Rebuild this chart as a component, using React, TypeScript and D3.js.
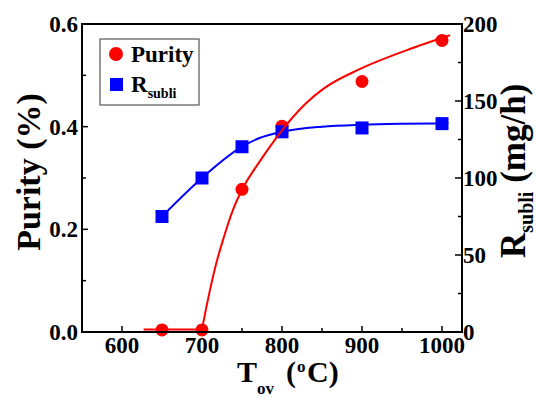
import React from "react";
import * as d3 from "d3";

// Measured data
const temps = [650, 700, 750, 800, 900, 1000];
const purity = [0.004, 0.004, 0.278, 0.401, 0.488, 0.568];
const rsubli = [75, 100, 120.3, 130, 132.5, 135.3];

// Fit curves
const purityFlatT = [627, 700];
const purityFlatV = [0.005, 0.005];
const purityFitT = [700, 705, 710, 718, 727, 738, 750, 772, 789, 800, 810, 831, 852, 897, 956, 1010];
const purityFitV = [0.005, 0.045, 0.082, 0.135, 0.183, 0.235, 0.277, 0.332, 0.370, 0.393, 0.412, 0.447, 0.474, 0.512, 0.549, 0.578];
const rFitT = [650, 700, 750, 772, 800, 850, 900, 950, 1008];
const rFitV = [75, 100, 120.3, 126, 130, 133.3, 134.6, 135.2, 135.5];

const xTicks = [600, 700, 800, 900, 1000];
const xMinor = [550, 650, 750, 850, 950];
const yLTicks = [0, 0.2, 0.4, 0.6];
const yLMinor = [0.1, 0.3, 0.5];
const yRTicks = [0, 50, 100, 150, 200];
const yRMinor = [25, 75, 125, 175];

const W = 537, H = 399;
const L = 82, R = 462, T = 24, B = 332;
const FONT = "Liberation Serif, DejaVu Serif, Times New Roman, serif";

export default function App() {
  const x = d3.scaleLinear().domain([550, 1025]).range([L, R]);
  const yL = d3.scaleLinear().domain([0, 0.6]).range([B, T]);
  const yR = d3.scaleLinear().domain([0, 200]).range([B, T]);

  const lineFlat = d3.line<number>().x((d, i) => x(purityFlatT[i])).y((d) => yL(d));
  const linePur = d3.line<number>().x((d, i) => x(purityFitT[i])).y((d) => yL(d)).curve(d3.curveMonotoneX);
  const lineR = d3.line<number>().x((d, i) => x(rFitT[i])).y((d) => yR(d)).curve(d3.curveMonotoneX);

  const tickStyle = { stroke: "#000", strokeWidth: 1.5 };
  const ts = { fontFamily: FONT, fontWeight: 700 as const };

  return (
    <svg width={W} height={H} style={{ position: "absolute", left: 0, top: 0, background: "#fff" }}>
      <rect x={0} y={0} width={W} height={H} fill="#fff" />
      {xTicks.map((t) => (
        <line key={"xt" + t} x1={x(t)} x2={x(t)} y1={B} y2={B - 6} {...tickStyle} />
      ))}
      {xMinor.filter((t) => x(t) > L + 1).map((t) => (
        <line key={"xm" + t} x1={x(t)} x2={x(t)} y1={B} y2={B - 4} {...tickStyle} />
      ))}
      {yLTicks.map((t) => (
        <line key={"ylt" + t} x1={L} x2={L + 6} y1={yL(t)} y2={yL(t)} {...tickStyle} />
      ))}
      {yLMinor.map((t) => (
        <line key={"ylm" + t} x1={L} x2={L + 4} y1={yL(t)} y2={yL(t)} {...tickStyle} />
      ))}
      {yRTicks.map((t) => (
        <line key={"yrt" + t} x1={R} x2={R - 7} y1={yR(t)} y2={yR(t)} {...tickStyle} />
      ))}
      {yRMinor.map((t) => (
        <line key={"yrm" + t} x1={R} x2={R - 4} y1={yR(t)} y2={yR(t)} {...tickStyle} />
      ))}

      <path d={lineFlat(purityFlatV) || ""} fill="none" stroke="#ff0000" strokeWidth={2} />
      {temps.map((t, i) => (
        <circle key={"pc" + t} cx={x(t)} cy={yL(purity[i])} r={6.5} fill="#ff0000" />
      ))}
      <path d={lineR(rFitV) || ""} fill="none" stroke="#0000ff" strokeWidth={2} />
      {temps.map((t, i) => (
        <rect key={"rs" + t} x={x(t) - 6.5} y={yR(rsubli[i]) - 6.5} width={13} height={13} fill="#0000ff" />
      ))}
      <path d={linePur(purityFitV) || ""} fill="none" stroke="#ff0000" strokeWidth={2} />

      <path d={`M${L},${T}H${R}V${B}H${L}Z`} fill="none" stroke="#000" strokeWidth={2} />

      {xTicks.map((t) => (
        <text key={"xl" + t} x={x(t)} y={353} textAnchor="middle" fontSize={23} style={ts}>{t}</text>
      ))}
      {yLTicks.map((t) => (
        <text key={"yll" + t} x={78} y={yL(t)} dy="0.35em" textAnchor="end" fontSize={23} style={ts}>{t.toFixed(1)}</text>
      ))}
      {yRTicks.map((t) => (
        <text key={"yrl" + t} x={463} y={yR(t)} dy="0.35em" textAnchor="start" fontSize={23} style={ts}>{t}</text>
      ))}

      <text transform="translate(40,172) rotate(-90)" textAnchor="middle" fontSize={34} style={ts}>Purity (%)</text>
      <text transform="translate(525,258) rotate(-90)" fontSize={35} style={ts}>
        R<tspan fontSize={20} dy={8}>subli</tspan><tspan dy={-8}> (mg/h)</tspan>
      </text>
      <text fontSize={30} style={ts}>
        <tspan x={237} y={382}>T</tspan>
        <tspan x={257} y={394} fontSize={17}>ov</tspan>
        <tspan x={286} y={382}>(</tspan>
        <tspan x={297} y={372} fontSize={17}>o</tspan>
        <tspan x={307} y={382}>C)</tspan>
      </text>

      <rect x={100} y={39} width={99} height={66} fill="#fff" stroke="#555" strokeWidth={1.2} />
      <circle cx={116} cy={54} r={7} fill="#ff0000" />
      <text x={131} y={62} fontSize={23} style={ts}>Purity</text>
      <rect x={110} y={78} width={13} height={13} fill="#0000ff" />
      <text x={131} y={92} fontSize={23} style={ts}>
        R<tspan fontSize={14} dy={6}>subli</tspan>
      </text>
    </svg>
  );
}
